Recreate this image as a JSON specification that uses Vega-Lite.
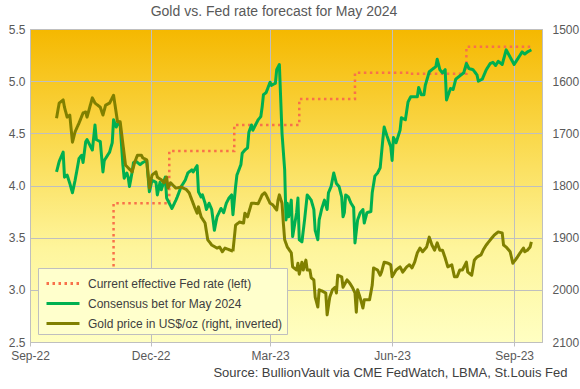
{
  "$schema": "https://vega.github.io/schema/vega-lite/v6.json",
  "width": 512,
  "height": 313,
  "autosize": {"type": "none"},
  "padding": {"left": 30, "top": 29, "right": 38, "bottom": 47},
  "background": "white",
  "title": {"text": "Gold vs. Fed rate forecast for May 2024", "fontSize": 14, "fontWeight": "normal", "color": "#595959", "font": "Liberation Sans", "dx": -12, "offset": 4},
  "datasets": {
    "fed": [
      {"d": "2022-09-21", "v": 3.08},
      {"d": "2022-11-03", "v": 3.83},
      {"d": "2022-12-15", "v": 4.33},
      {"d": "2023-02-02", "v": 4.58},
      {"d": "2023-03-23", "v": 4.83},
      {"d": "2023-05-04", "v": 5.08},
      {"d": "2023-06-15", "v": 5.07},
      {"d": "2023-07-27", "v": 5.33},
      {"d": "2023-09-14", "v": 5.33}
    ],
    "bet": [
      {"d": "2022-09-21", "v": 4.13}, {"d": "2022-09-23", "v": 4.23}, {"d": "2022-09-26", "v": 4.32}, {"d": "2022-09-27", "v": 4.08},
      {"d": "2022-09-29", "v": 4.10}, {"d": "2022-10-01", "v": 4.02}, {"d": "2022-10-03", "v": 3.93}, {"d": "2022-10-05", "v": 4.05},
      {"d": "2022-10-08", "v": 4.26}, {"d": "2022-10-10", "v": 4.29}, {"d": "2022-10-11", "v": 4.22}, {"d": "2022-10-13", "v": 4.42},
      {"d": "2022-10-14", "v": 4.44}, {"d": "2022-10-16", "v": 4.39}, {"d": "2022-10-18", "v": 4.34}, {"d": "2022-10-20", "v": 4.58},
      {"d": "2022-10-21", "v": 4.44}, {"d": "2022-10-24", "v": 4.42}, {"d": "2022-10-26", "v": 4.13}, {"d": "2022-10-27", "v": 4.24},
      {"d": "2022-10-31", "v": 4.32}, {"d": "2022-11-02", "v": 4.41}, {"d": "2022-11-03", "v": 4.63}, {"d": "2022-11-05", "v": 4.56},
      {"d": "2022-11-07", "v": 4.61}, {"d": "2022-11-08", "v": 4.58}, {"d": "2022-11-10", "v": 4.20}, {"d": "2022-11-11", "v": 4.07},
      {"d": "2022-11-13", "v": 4.12}, {"d": "2022-11-14", "v": 4.08}, {"d": "2022-11-15", "v": 3.99}, {"d": "2022-11-17", "v": 4.13},
      {"d": "2022-11-18", "v": 4.22}, {"d": "2022-11-20", "v": 4.23}, {"d": "2022-11-23", "v": 4.20}, {"d": "2022-11-25", "v": 4.22},
      {"d": "2022-11-28", "v": 4.24}, {"d": "2022-11-30", "v": 3.94}, {"d": "2022-12-02", "v": 4.05}, {"d": "2022-12-05", "v": 4.03},
      {"d": "2022-12-06", "v": 3.91}, {"d": "2022-12-08", "v": 4.03}, {"d": "2022-12-09", "v": 3.96}, {"d": "2022-12-12", "v": 4.08},
      {"d": "2022-12-13", "v": 3.88}, {"d": "2022-12-15", "v": 3.83}, {"d": "2022-12-17", "v": 3.78}, {"d": "2022-12-20", "v": 3.86},
      {"d": "2022-12-21", "v": 3.89}, {"d": "2022-12-24", "v": 3.99}, {"d": "2022-12-27", "v": 4.05}, {"d": "2022-12-29", "v": 4.12},
      {"d": "2023-01-01", "v": 4.15}, {"d": "2023-01-02", "v": 4.13}, {"d": "2023-01-05", "v": 4.19}, {"d": "2023-01-06", "v": 3.94},
      {"d": "2023-01-08", "v": 3.89}, {"d": "2023-01-09", "v": 3.91}, {"d": "2023-01-11", "v": 3.83}, {"d": "2023-01-12", "v": 3.77},
      {"d": "2023-01-14", "v": 3.83}, {"d": "2023-01-16", "v": 3.77}, {"d": "2023-01-18", "v": 3.57}, {"d": "2023-01-20", "v": 3.70},
      {"d": "2023-01-23", "v": 3.78}, {"d": "2023-01-25", "v": 3.74}, {"d": "2023-01-27", "v": 3.83}, {"d": "2023-01-29", "v": 3.88},
      {"d": "2023-01-31", "v": 3.91}, {"d": "2023-02-01", "v": 3.72}, {"d": "2023-02-03", "v": 3.99}, {"d": "2023-02-04", "v": 4.10},
      {"d": "2023-02-07", "v": 4.20}, {"d": "2023-02-08", "v": 4.31}, {"d": "2023-02-10", "v": 4.34}, {"d": "2023-02-12", "v": 4.36},
      {"d": "2023-02-13", "v": 4.51}, {"d": "2023-02-15", "v": 4.58}, {"d": "2023-02-16", "v": 4.53}, {"d": "2023-02-18", "v": 4.58},
      {"d": "2023-02-20", "v": 4.63}, {"d": "2023-02-22", "v": 4.66}, {"d": "2023-02-23", "v": 4.75}, {"d": "2023-02-24", "v": 4.87},
      {"d": "2023-02-26", "v": 4.89}, {"d": "2023-03-01", "v": 4.99}, {"d": "2023-03-02", "v": 4.96}, {"d": "2023-03-05", "v": 4.98},
      {"d": "2023-03-06", "v": 5.11}, {"d": "2023-03-08", "v": 5.16}, {"d": "2023-03-10", "v": 4.50}, {"d": "2023-03-12", "v": 4.15},
      {"d": "2023-03-13", "v": 3.67}, {"d": "2023-03-14", "v": 3.83}, {"d": "2023-03-15", "v": 3.70}, {"d": "2023-03-17", "v": 3.86},
      {"d": "2023-03-18", "v": 3.51}, {"d": "2023-03-21", "v": 3.74}, {"d": "2023-03-22", "v": 3.88}, {"d": "2023-03-23", "v": 3.48},
      {"d": "2023-03-25", "v": 3.46}, {"d": "2023-03-27", "v": 3.67}, {"d": "2023-03-29", "v": 3.91}, {"d": "2023-04-01", "v": 3.86},
      {"d": "2023-04-03", "v": 3.77}, {"d": "2023-04-04", "v": 3.57}, {"d": "2023-04-06", "v": 3.48}, {"d": "2023-04-07", "v": 3.67},
      {"d": "2023-04-09", "v": 3.78}, {"d": "2023-04-11", "v": 3.86}, {"d": "2023-04-13", "v": 3.77}, {"d": "2023-04-14", "v": 3.93},
      {"d": "2023-04-16", "v": 3.99}, {"d": "2023-04-18", "v": 4.12}, {"d": "2023-04-20", "v": 4.02}, {"d": "2023-04-22", "v": 3.99},
      {"d": "2023-04-24", "v": 3.89}, {"d": "2023-04-25", "v": 3.70}, {"d": "2023-04-26", "v": 3.74}, {"d": "2023-04-27", "v": 3.91},
      {"d": "2023-04-29", "v": 3.89}, {"d": "2023-05-01", "v": 3.83}, {"d": "2023-05-03", "v": 3.79}, {"d": "2023-05-04", "v": 3.45},
      {"d": "2023-05-06", "v": 3.67}, {"d": "2023-05-08", "v": 3.74}, {"d": "2023-05-10", "v": 3.77}, {"d": "2023-05-11", "v": 3.64},
      {"d": "2023-05-13", "v": 3.74}, {"d": "2023-05-16", "v": 3.75}, {"d": "2023-05-17", "v": 3.93}, {"d": "2023-05-19", "v": 4.09},
      {"d": "2023-05-21", "v": 4.12}, {"d": "2023-05-23", "v": 4.17}, {"d": "2023-05-25", "v": 4.44}, {"d": "2023-05-26", "v": 4.56},
      {"d": "2023-05-28", "v": 4.48}, {"d": "2023-05-31", "v": 4.37}, {"d": "2023-06-01", "v": 4.24}, {"d": "2023-06-02", "v": 4.46},
      {"d": "2023-06-04", "v": 4.41}, {"d": "2023-06-07", "v": 4.53}, {"d": "2023-06-08", "v": 4.65}, {"d": "2023-06-11", "v": 4.63},
      {"d": "2023-06-13", "v": 4.80}, {"d": "2023-06-15", "v": 4.85}, {"d": "2023-06-20", "v": 4.85}, {"d": "2023-06-21", "v": 4.94},
      {"d": "2023-06-23", "v": 4.87}, {"d": "2023-06-25", "v": 4.87}, {"d": "2023-06-26", "v": 4.96}, {"d": "2023-06-29", "v": 5.09},
      {"d": "2023-07-01", "v": 5.11}, {"d": "2023-07-04", "v": 5.14}, {"d": "2023-07-05", "v": 5.21}, {"d": "2023-07-07", "v": 5.11},
      {"d": "2023-07-09", "v": 5.08}, {"d": "2023-07-11", "v": 5.11}, {"d": "2023-07-12", "v": 4.82}, {"d": "2023-07-15", "v": 4.93},
      {"d": "2023-07-17", "v": 4.92}, {"d": "2023-07-19", "v": 5.02}, {"d": "2023-07-23", "v": 5.06}, {"d": "2023-07-25", "v": 5.08},
      {"d": "2023-07-27", "v": 5.17}, {"d": "2023-07-29", "v": 5.12}, {"d": "2023-08-01", "v": 5.11}, {"d": "2023-08-04", "v": 5.06},
      {"d": "2023-08-05", "v": 5.00}, {"d": "2023-08-08", "v": 5.02}, {"d": "2023-08-11", "v": 5.11}, {"d": "2023-08-14", "v": 5.17},
      {"d": "2023-08-16", "v": 5.18}, {"d": "2023-08-18", "v": 5.15}, {"d": "2023-08-20", "v": 5.19}, {"d": "2023-08-23", "v": 5.16},
      {"d": "2023-08-26", "v": 5.30}, {"d": "2023-08-29", "v": 5.23}, {"d": "2023-09-01", "v": 5.16}, {"d": "2023-09-03", "v": 5.20},
      {"d": "2023-09-07", "v": 5.28}, {"d": "2023-09-09", "v": 5.26}, {"d": "2023-09-11", "v": 5.28}, {"d": "2023-09-14", "v": 5.30}
    ],
    "gold": [
      {"d": "2022-09-21", "v": 1671}, {"d": "2022-09-23", "v": 1642}, {"d": "2022-09-26", "v": 1636}, {"d": "2022-09-27", "v": 1650},
      {"d": "2022-09-29", "v": 1669}, {"d": "2022-10-01", "v": 1665}, {"d": "2022-10-03", "v": 1717}, {"d": "2022-10-05", "v": 1697},
      {"d": "2022-10-08", "v": 1680}, {"d": "2022-10-11", "v": 1661}, {"d": "2022-10-13", "v": 1659}, {"d": "2022-10-14", "v": 1669},
      {"d": "2022-10-18", "v": 1632}, {"d": "2022-10-20", "v": 1642}, {"d": "2022-10-24", "v": 1650}, {"d": "2022-10-26", "v": 1665},
      {"d": "2022-10-28", "v": 1646}, {"d": "2022-10-31", "v": 1642}, {"d": "2022-11-03", "v": 1627}, {"d": "2022-11-05", "v": 1661},
      {"d": "2022-11-06", "v": 1678}, {"d": "2022-11-08", "v": 1678}, {"d": "2022-11-12", "v": 1761}, {"d": "2022-11-14", "v": 1766},
      {"d": "2022-11-17", "v": 1774}, {"d": "2022-11-19", "v": 1755}, {"d": "2022-11-21", "v": 1742}, {"d": "2022-11-24", "v": 1742},
      {"d": "2022-11-25", "v": 1747}, {"d": "2022-11-28", "v": 1751}, {"d": "2022-11-30", "v": 1805}, {"d": "2022-12-02", "v": 1780},
      {"d": "2022-12-05", "v": 1774}, {"d": "2022-12-06", "v": 1784}, {"d": "2022-12-09", "v": 1789}, {"d": "2022-12-11", "v": 1795},
      {"d": "2022-12-13", "v": 1784}, {"d": "2022-12-14", "v": 1805}, {"d": "2022-12-16", "v": 1795}, {"d": "2022-12-20", "v": 1805},
      {"d": "2022-12-24", "v": 1803}, {"d": "2022-12-28", "v": 1808}, {"d": "2022-12-30", "v": 1814}, {"d": "2023-01-03", "v": 1841},
      {"d": "2023-01-05", "v": 1853}, {"d": "2023-01-06", "v": 1841}, {"d": "2023-01-08", "v": 1860}, {"d": "2023-01-11", "v": 1872},
      {"d": "2023-01-13", "v": 1904}, {"d": "2023-01-16", "v": 1914}, {"d": "2023-01-20", "v": 1920}, {"d": "2023-01-22", "v": 1918},
      {"d": "2023-01-24", "v": 1927}, {"d": "2023-01-26", "v": 1920}, {"d": "2023-01-28", "v": 1922}, {"d": "2023-02-01", "v": 1926},
      {"d": "2023-02-03", "v": 1876}, {"d": "2023-02-06", "v": 1870}, {"d": "2023-02-09", "v": 1872}, {"d": "2023-02-10", "v": 1853},
      {"d": "2023-02-12", "v": 1860}, {"d": "2023-02-15", "v": 1834}, {"d": "2023-02-17", "v": 1834}, {"d": "2023-02-20", "v": 1835},
      {"d": "2023-02-23", "v": 1818}, {"d": "2023-02-25", "v": 1814}, {"d": "2023-02-26", "v": 1818}, {"d": "2023-03-01", "v": 1834},
      {"d": "2023-03-03", "v": 1837}, {"d": "2023-03-06", "v": 1847}, {"d": "2023-03-07", "v": 1828}, {"d": "2023-03-08", "v": 1818},
      {"d": "2023-03-10", "v": 1834}, {"d": "2023-03-11", "v": 1872}, {"d": "2023-03-12", "v": 1904}, {"d": "2023-03-14", "v": 1918},
      {"d": "2023-03-17", "v": 1929}, {"d": "2023-03-18", "v": 1956}, {"d": "2023-03-21", "v": 1962}, {"d": "2023-03-22", "v": 1949},
      {"d": "2023-03-23", "v": 1970}, {"d": "2023-03-25", "v": 1947}, {"d": "2023-03-26", "v": 1962}, {"d": "2023-03-28", "v": 1943},
      {"d": "2023-03-29", "v": 1962}, {"d": "2023-03-31", "v": 1962}, {"d": "2023-04-01", "v": 1977}, {"d": "2023-04-03", "v": 1981},
      {"d": "2023-04-04", "v": 2014}, {"d": "2023-04-06", "v": 2033}, {"d": "2023-04-07", "v": 2000}, {"d": "2023-04-09", "v": 2002},
      {"d": "2023-04-12", "v": 2006}, {"d": "2023-04-13", "v": 2048}, {"d": "2023-04-15", "v": 2014}, {"d": "2023-04-17", "v": 2000},
      {"d": "2023-04-19", "v": 1995}, {"d": "2023-04-20", "v": 2006}, {"d": "2023-04-21", "v": 1972}, {"d": "2023-04-24", "v": 1975},
      {"d": "2023-04-25", "v": 1995}, {"d": "2023-04-28", "v": 1981}, {"d": "2023-04-30", "v": 1987}, {"d": "2023-05-02", "v": 1995},
      {"d": "2023-05-04", "v": 2006}, {"d": "2023-05-05", "v": 2043}, {"d": "2023-05-06", "v": 2000}, {"d": "2023-05-08", "v": 2016},
      {"d": "2023-05-10", "v": 2035}, {"d": "2023-05-11", "v": 2019}, {"d": "2023-05-14", "v": 2019}, {"d": "2023-05-15", "v": 2019},
      {"d": "2023-05-17", "v": 1991}, {"d": "2023-05-18", "v": 1958}, {"d": "2023-05-21", "v": 1962}, {"d": "2023-05-23", "v": 1972},
      {"d": "2023-05-24", "v": 1966}, {"d": "2023-05-26", "v": 1947}, {"d": "2023-05-29", "v": 1949}, {"d": "2023-05-31", "v": 1952},
      {"d": "2023-06-01", "v": 1975}, {"d": "2023-06-04", "v": 1962}, {"d": "2023-06-07", "v": 1956}, {"d": "2023-06-09", "v": 1966},
      {"d": "2023-06-12", "v": 1956}, {"d": "2023-06-14", "v": 1952}, {"d": "2023-06-16", "v": 1958}, {"d": "2023-06-18", "v": 1947},
      {"d": "2023-06-20", "v": 1929}, {"d": "2023-06-22", "v": 1920}, {"d": "2023-06-24", "v": 1927}, {"d": "2023-06-27", "v": 1918},
      {"d": "2023-06-29", "v": 1899}, {"d": "2023-07-01", "v": 1914}, {"d": "2023-07-03", "v": 1924}, {"d": "2023-07-05", "v": 1910},
      {"d": "2023-07-07", "v": 1924}, {"d": "2023-07-09", "v": 1924}, {"d": "2023-07-11", "v": 1939}, {"d": "2023-07-13", "v": 1956},
      {"d": "2023-07-16", "v": 1952}, {"d": "2023-07-18", "v": 1975}, {"d": "2023-07-20", "v": 1975}, {"d": "2023-07-22", "v": 1962},
      {"d": "2023-07-24", "v": 1962}, {"d": "2023-07-27", "v": 1947}, {"d": "2023-07-28", "v": 1966}, {"d": "2023-07-31", "v": 1972},
      {"d": "2023-08-02", "v": 1943}, {"d": "2023-08-04", "v": 1937}, {"d": "2023-08-07", "v": 1933}, {"d": "2023-08-09", "v": 1922},
      {"d": "2023-08-11", "v": 1914}, {"d": "2023-08-15", "v": 1901}, {"d": "2023-08-17", "v": 1895}, {"d": "2023-08-20", "v": 1889},
      {"d": "2023-08-23", "v": 1891}, {"d": "2023-08-24", "v": 1914}, {"d": "2023-08-26", "v": 1918}, {"d": "2023-08-29", "v": 1927},
      {"d": "2023-08-31", "v": 1949}, {"d": "2023-09-03", "v": 1939}, {"d": "2023-09-05", "v": 1931}, {"d": "2023-09-08", "v": 1920},
      {"d": "2023-09-09", "v": 1927}, {"d": "2023-09-11", "v": 1924}, {"d": "2023-09-13", "v": 1918}, {"d": "2023-09-14", "v": 1908}
    ]
  },
  "encoding": {
    "x": {
      "field": "d", "type": "temporal",
      "scale": {"type": "utc", "domain": [{"year": 2022, "month": 9, "date": 1, "utc": true}, {"year": 2023, "month": 9, "date": 22, "utc": true}]},
      "axis": {
        "values": [
          {"year": 2022, "month": 9, "date": 1, "utc": true},
          {"year": 2022, "month": 12, "date": 1, "utc": true},
          {"year": 2023, "month": 3, "date": 1, "utc": true},
          {"year": 2023, "month": 6, "date": 1, "utc": true},
          {"year": 2023, "month": 9, "date": 1, "utc": true}
        ],
        "labelExpr": "utcFormat(datum.value, '%b-%y')", "grid": true, "labelFlush": false, "tickSize": 4, "labelPadding": 4,
        "title": "Source: BullionVault via CME FedWatch, LBMA, St.Louis Fed",
        "titleFontSize": 13, "titleFontWeight": "normal", "titleColor": "#404040",
        "titleX": 537, "titleY": 30, "titleAlign": "right", "titleBaseline": "middle", "titleAnchor": null
      }
    }
  },
  "layer": [
    {
      "layer": [
        {
          "data": {"name": "fed"},
          "mark": {"type": "line", "interpolate": "step-after", "strokeWidth": 2.5},
          "encoding": {
            "y": {"field": "v", "type": "quantitative", "scale": {"domain": [2.5, 5.5], "nice": false, "zero": false},
              "axis": {"orient": "left", "values": [2.5, 3, 3.5, 4, 4.5, 5, 5.5], "format": ".1f", "ticks": false, "domain": false, "labelPadding": 5, "grid": true, "title": null}},
            "color": {"datum": "Current effective Fed rate (left)"},
            "strokeDash": {"datum": "Current effective Fed rate (left)"}
          }
        },
        {
          "data": {"name": "bet"},
          "mark": {"type": "line", "strokeWidth": 3, "strokeJoin": "round"},
          "encoding": {
            "y": {"field": "v", "type": "quantitative", "scale": {"domain": [2.5, 5.5], "nice": false, "zero": false}, "axis": {"orient": "left", "values": [2.5, 3, 3.5, 4, 4.5, 5, 5.5], "format": ".1f", "ticks": false, "domain": false, "labelPadding": 5, "grid": true, "title": null}},
            "color": {"datum": "Consensus bet for May 2024"},
            "strokeDash": {"datum": "Consensus bet for May 2024"}
          }
        }
      ]
    },
    {
      "data": {"name": "gold"},
      "mark": {"type": "line", "strokeWidth": 3, "strokeJoin": "round"},
      "encoding": {
        "y": {"field": "v", "type": "quantitative", "scale": {"domain": [1500, 2100], "reverse": true, "nice": false, "zero": false},
          "axis": {"orient": "right", "values": [1500, 1600, 1700, 1800, 1900, 2000, 2100], "format": "d", "ticks": false, "domain": false, "labelPadding": 10, "grid": false, "title": null}},
        "color": {
          "datum": "Gold price in US$/oz (right, inverted)",
          "scale": {"domain": ["Current effective Fed rate (left)", "Consensus bet for May 2024", "Gold price in US$/oz (right, inverted)"], "range": ["#F8714A", "#00B050", "#808000"]},
          "legend": {"title": null}
        },
        "strokeDash": {
          "datum": "Gold price in US$/oz (right, inverted)",
          "scale": {"domain": ["Current effective Fed rate (left)", "Consensus bet for May 2024", "Gold price in US$/oz (right, inverted)"], "range": [[2.5, 3.5], [1, 0], [1, 0]]},
          "legend": {"title": null}
        }
      }
    }
  ],
  "resolve": {"scale": {"y": "independent"}},
  "config": {
    "font": "Liberation Sans",
    "view": {
      "stroke": "#BFBFBF",
      "fill": {"gradient": "linear", "x1": 0, "y1": 0, "x2": 0, "y2": 1, "stops": [
        {"offset": 0, "color": "#F5B800"},
        {"offset": 0.35, "color": "#FAD94C"},
        {"offset": 0.7, "color": "#FEF59C"},
        {"offset": 1, "color": "#FFFFC2"}
      ]}
    },
    "axis": {"gridColor": "#BFBFBF", "gridOpacity": 1, "labelColor": "#595959", "labelFontSize": 12, "domainColor": "#BFBFBF", "tickColor": "#BFBFBF"},
    "legend": {
      "orient": "bottom-left", "offset": 8, "fillColor": "#FFFFCC", "strokeColor": "#BFBFBF", "padding": 4,
      "symbolType": "M-0.7,0H2.6", "symbolSize": 400, "symbolStrokeWidth": 3, "labelFontSize": 12, "labelColor": "#404040",
      "labelOffset": 23, "rowPadding": 2, "labelLimit": 400
    }
  }
}
